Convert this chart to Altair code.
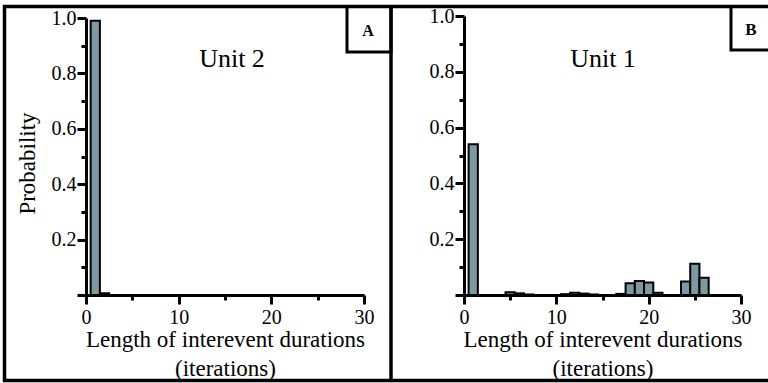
import altair as alt
import pandas as pd

# ---- data ----
unit2_bins = [1, 2]
unit2_prob = [0.99, 0.006]

unit1_bins = [1, 5, 6, 7, 11, 12, 13, 14, 17, 18, 19, 20, 21, 24, 25, 26]
unit1_prob = [0.54, 0.01, 0.006, 0.002, 0.003, 0.008, 0.005, 0.002,
              0.004, 0.042, 0.05, 0.045, 0.008, 0.048, 0.112, 0.062]

x_ticks = [0, 5, 10, 15, 20, 25, 30]
y_ticks = [0, 0.1, 0.2, 0.3, 0.4, 0.5, 0.6, 0.7, 0.8, 0.9, 1.0]
x_title = ["Length of interevent durations", "(iterations)"]

dfA = pd.DataFrame({"bin": unit2_bins, "p": unit2_prob})
dfB = pd.DataFrame({"bin": unit1_bins, "p": unit1_prob})

FONT = "Liberation Serif"
BAR = "#7d99a3"


def x_axis(title):
    return alt.Axis(
        values=x_ticks, orient="bottom", grid=False,
        tickSize={"condition": {"test": "datum.value % 10 == 0", "value": 9}, "value": 5},
        tickWidth=3, tickColor="black", domainWidth=3, domainColor="black",
        labelExpr="datum.value % 10 == 0 ? datum.label : ''",
        labelFont=FONT, labelFontSize=20, labelColor="black", labelPadding=3,
        labelFlush=False, labelOverlap=False,
        title=title, titleFont=FONT, titleFontSize=23, titleFontWeight="normal",
        titleColor="black", titlePadding=1, titleLineHeight=29,
    )


def y_axis(offset, title):
    kw = dict(
        values=y_ticks, orient="left", grid=False, offset=offset,
        tickSize={"condition": {"test": "abs(datum.value*5 - round(datum.value*5)) < 0.001", "value": 9}, "value": 5},
        tickWidth=3, tickColor="black", domainWidth=3, domainColor="black",
        labelExpr="datum.value > 0.05 && abs(datum.value*5 - round(datum.value*5)) < 0.001 ? format(datum.value, '.1f') : ''",
        labelFont=FONT, labelFontSize=20, labelColor="black", labelPadding=1,
        labelFlush=False, labelOverlap=False,
    )
    if title:
        kw.update(title=title, titleFont=FONT, titleFontSize=23, titleFontWeight="normal",
                  titleColor="black", titlePadding=12, titleY=163)
    else:
        kw.update(title=None)
    return alt.Axis(**kw)


barsA = alt.Chart(dfA).transform_calculate(
    lo="datum.bin - 0.5", hi="datum.bin + 0.5"
).mark_rect(fill=BAR, stroke="black", strokeWidth=2).encode(
    x=alt.X("lo:Q", scale=alt.Scale(domain=[0, 30], range=[86, 364], nice=False), axis=x_axis(x_title)),
    x2="hi:Q",
    y=alt.Y("p:Q", scale=alt.Scale(domain=[0, 1], range=[295, 18], nice=False), axis=y_axis(-86, "Probability")),
    y2=alt.datum(0),
)

barsB = alt.Chart(dfB).transform_calculate(
    lo="datum.bin - 0.5", hi="datum.bin + 0.5"
).mark_rect(fill=BAR, stroke="black", strokeWidth=2).encode(
    x=alt.X("lo:Q", scale=alt.Scale(domain=[0, 30], range=[464, 741], nice=False), axis=x_axis(x_title)),
    x2="hi:Q",
    y=alt.Y("p:Q", scale=alt.Scale(domain=[0, 1], range=[295, 16], nice=False), axis=y_axis(-464, None)),
    y2=alt.datum(0),
)

one = pd.DataFrame({"k": [0]})

frame = alt.Chart(one).mark_rect(fill="white", fillOpacity=0, stroke="black", strokeWidth=3.5).encode(
    x=alt.value(4.5), x2=alt.value(775), y=alt.value(6.5), y2=alt.value(380.5))
divider = alt.Chart(one).mark_rule(color="black", strokeWidth=3.5).encode(
    x=alt.value(391), y=alt.value(5), y2=alt.value(382))
boxA = alt.Chart(one).mark_rect(fill="white", fillOpacity=0, stroke="black", strokeWidth=3).encode(
    x=alt.value(347), x2=alt.value(391), y=alt.value(6.5), y2=alt.value(52))
boxB = alt.Chart(one).mark_rect(fill="white", fillOpacity=0, stroke="black", strokeWidth=3).encode(
    x=alt.value(731), x2=alt.value(775), y=alt.value(6.5), y2=alt.value(50))

labA = alt.Chart(pd.DataFrame({"t": ["A"]})).mark_text(
    font=FONT, fontSize=16, fontWeight="bold", color="black", baseline="middle", align="center"
).encode(x=alt.value(368), y=alt.value(31), text="t:N")
labB = alt.Chart(pd.DataFrame({"t": ["B"]})).mark_text(
    font=FONT, fontSize=17, fontWeight="bold", color="black", baseline="middle", align="center"
).encode(x=alt.value(751), y=alt.value(30), text="t:N")

unitA = alt.Chart(pd.DataFrame({"t": ["Unit 2"]})).mark_text(
    font=FONT, fontSize=26, color="black", baseline="alphabetic", align="center"
).encode(x=alt.value(232), y=alt.value(67), text="t:N")
unitB = alt.Chart(pd.DataFrame({"t": ["Unit 1"]})).mark_text(
    font=FONT, fontSize=26, color="black", baseline="alphabetic", align="center"
).encode(x=alt.value(603), y=alt.value(67), text="t:N")

chart = alt.layer(
    barsA, barsB, frame, divider, boxA, boxB, labA, labB, unitA, unitB
).resolve_scale(
    x="independent", y="independent"
).resolve_axis(
    x="independent", y="independent"
).properties(
    width=768, height=295,
    padding={"left": 0, "top": 0, "right": 0, "bottom": 88},
    autosize=alt.AutoSizeParams(type="none"),
    background="white",
).configure_view(stroke=None)

chart.save("out.html", embed_options={"renderer": "svg", "actions": False})
